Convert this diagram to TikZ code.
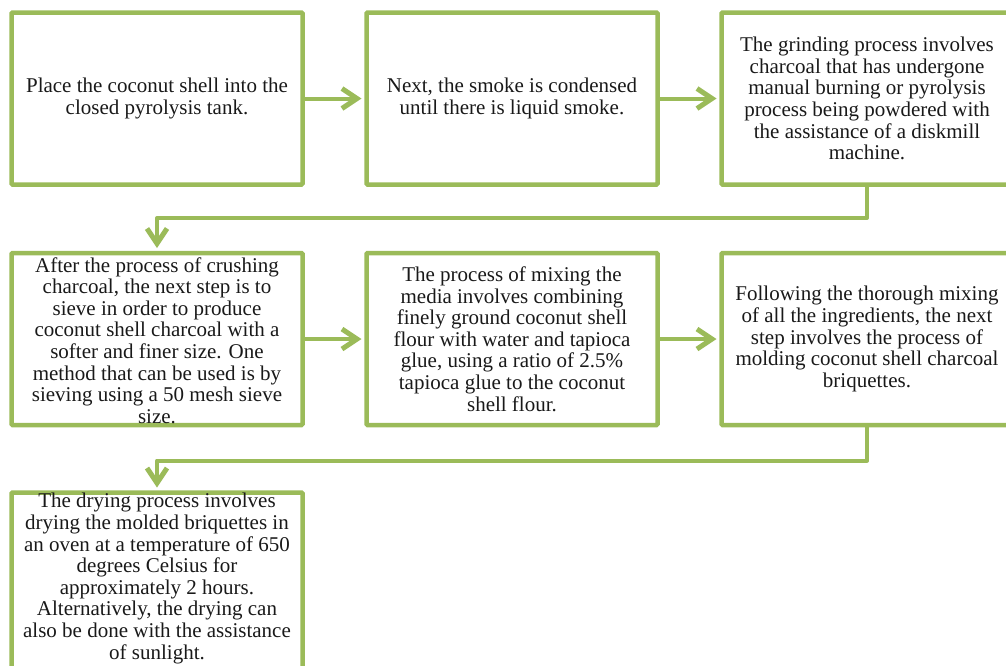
\documentclass[tikz,border=0pt]{standalone}
\usepackage{fontspec}
\setmainfont{Liberation Serif}
\usetikzlibrary{arrows.meta}
\definecolor{olive}{HTML}{9BBB59}
\tikzset{
  stepbox/.style={draw=olive, line width=4.5pt, minimum width=291pt, minimum height=172pt,
    inner sep=0pt, outer sep=0pt, rounded corners=1pt},
  steptext/.style={align=center, inner sep=0pt, text=black!90,
    font=\fontsize{21}{21.6}\selectfont},
  conn/.style={draw=olive, line width=4pt, line join=round,
    -{Straight Barb[length=15pt,width=20pt,line width=5pt]}, shorten >=5pt}
}
\begin{document}
\begin{tikzpicture}[x=1pt,y=-1pt]
\useasboundingbox (0,0) rectangle (1006,665);
% row 1
\node[stepbox] (b1) at (157,98.5) {};
\node[stepbox] (b2) at (512,98.5) {};
\node[stepbox] (b3) at (867,98.5) {};
% row 2
\node[stepbox] (b4) at (157,339) {};
\node[stepbox] (b5) at (512,339) {};
\node[stepbox] (b6) at (867,339) {};
% row 3
\node[stepbox, minimum height=178pt] (b7) at (157,581.5) {};

\node[steptext] (t1) at (b1) {Place the coconut shell into the\\closed pyrolysis tank.};
\node[steptext] (t2) at (b2) {Next, the smoke is condensed\\until there is liquid smoke.};
\node[steptext] (t3) at (b3) {The grinding process involves\\charcoal that has undergone\\manual burning or pyrolysis\\process being powdered with\\the assistance of a diskmill\\machine.};
\node[steptext] (t4) at (157,340.5) {After the process of crushing\\charcoal, the next step is to\\sieve in order to produce\\coconut shell charcoal with a\\softer and finer size. One\\method that can be used is by\\sieving using a 50 mesh sieve\\size.};
\node[steptext] (t5) at (b5) {The process of mixing the\\media involves combining\\finely ground coconut shell\\flour with water and tapioca\\glue, using a ratio of 2.5\%\\tapioca glue to the coconut\\shell flour.};
\node[steptext] (t6) at (b6) {Following the thorough mixing\\of all the ingredients, the next\\step involves the process of\\molding coconut shell charcoal\\briquettes.};
\node[steptext] (t7) at (157,578.5) {The drying process involves\\drying the molded briquettes in\\an oven at a temperature of 650\\degrees Celsius for\\approximately 2 hours.\\Alternatively, the drying can\\also be done with the assistance\\of sunlight.};

\draw[conn] (b1.east) -- (b2.west);
\draw[conn] (b2.east) -- (b3.west);
\draw[conn] (b4.east) -- (b5.west);
\draw[conn] (b5.east) -- (b6.west);
\draw[conn] (b3.south) -- ++(0,33.5) -| (b4.north);
\draw[conn] (b6.south) -- ++(0,35.5) -| (b7.north);
\end{tikzpicture}
\end{document}
